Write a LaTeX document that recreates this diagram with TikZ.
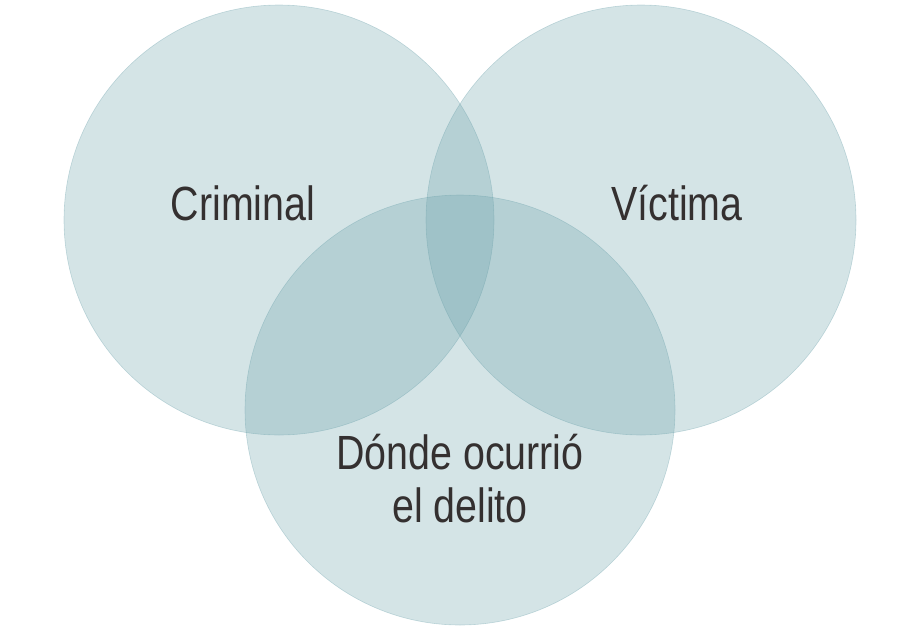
\documentclass[tikz,border=0pt]{standalone}
\usepackage{fontspec}
\setmainfont{Liberation Sans}[FakeStretch=0.82]
\definecolor{venn}{RGB}{101,157,166}
\definecolor{txt}{RGB}{52,48,48}
\begin{document}
\begin{tikzpicture}[x=1pt,y=-1pt,
  vc/.style={circle,minimum size=430pt,inner sep=0pt,fill=venn,fill opacity=0.28,draw=venn,draw opacity=0.35,line width=0.6pt},
  lbl/.style={text=txt,font=\fontsize{48}{53}\selectfont,align=center,inner sep=0pt}]
\useasboundingbox (0,0) rectangle (920,635);
\node[vc] (c1) at (279,220) {};
\node[vc] (c2) at (641,220) {};
\node[vc] (c3) at (460,410) {};
\node[lbl,anchor=base] (t1) at (243,220) {Criminal};
\node[lbl,anchor=base] (t2) at (677,220) {Víctima};
\node[lbl,anchor=base] (t3) at (460,522) {Dónde ocurrió\\el delito};
\end{tikzpicture}
\end{document}
